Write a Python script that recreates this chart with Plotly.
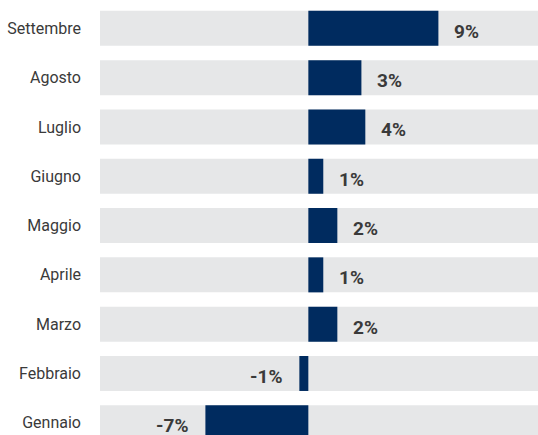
import plotly.graph_objects as go

months = ["Gennaio", "Febbraio", "Marzo", "Aprile", "Maggio", "Giugno", "Luglio", "Agosto", "Settembre"]
values = [-7.1, -0.62, 2.0, 1.03, 2.0, 1.03, 3.93, 3.66, 8.97]
labels = ["-7%", "-1%", "2%", "1%", "2%", "1%", "4%", "3%", "9%"]

x_min, x_max = -14.37, 15.84

fig = go.Figure()
fig.add_trace(go.Bar(
    y=months, x=[x_max - x_min] * len(months), base=[x_min] * len(months),
    orientation="h", marker=dict(color="#e6e7e8", line=dict(width=0)),
    hoverinfo="skip", showlegend=False,
))
fig.add_trace(go.Bar(
    y=months, x=values, orientation="h",
    marker=dict(color="#002b5f", line=dict(width=0)),
    showlegend=False,
))

for m, v, t in zip(months, values, labels):
    fig.add_annotation(
        x=v, y=m, text=t, showarrow=False,
        xanchor="left" if v >= 0 else "right",
        xshift=14 if v >= 0 else -15, yshift=-3,
        font=dict(family="Roboto", size=19, color="#3a3a3a", weight="bold"),
    )

fig.update_layout(
    width=538, height=435,
    margin=dict(l=100, r=0, t=0, b=0),
    barmode="overlay", bargap=0.29,
    plot_bgcolor="white", paper_bgcolor="white",
    xaxis=dict(range=[x_min, x_max], visible=False, fixedrange=True),
    yaxis=dict(
        categoryorder="array", categoryarray=months,
        range=[-0.248, 8.575], showgrid=False, zeroline=False,
        ticks="", ticklabelstandoff=18, fixedrange=True,
        tickfont=dict(family="Roboto", size=16, color="#3a3a3a"),
        showline=False,
    ),
)

fig.write_html(
    "out.html",
    config={"displayModeBar": False},
    post_script="document.body.style.margin='0';document.body.style.overflow='hidden';",
)
